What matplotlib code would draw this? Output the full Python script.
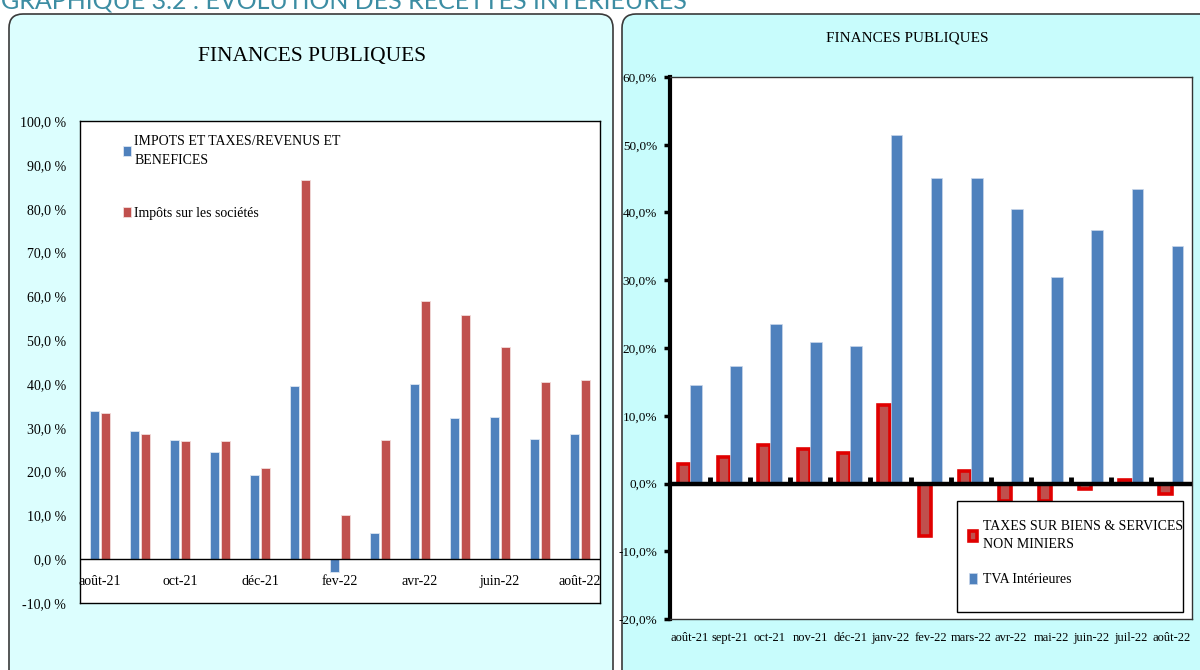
import numpy as np
import matplotlib
matplotlib.use("Agg")
import matplotlib.pyplot as plt
from matplotlib.patches import FancyBboxPatch, Rectangle

plt.rcParams['font.family'] = ['Liberation Serif', 'DejaVu Serif']

# data
months = ['août-21', 'sept-21', 'oct-21', 'nov-21', 'déc-21', 'janv-22', 'fev-22',
          'mars-22', 'avr-22', 'mai-22', 'juin-22', 'juil-22', 'août-22']

# left chart
impots_revenus = [33.8, 29.2, 27.3, 24.4, 19.2, 39.6, -2.9, 6.0, 39.9, 32.3, 32.5, 27.5, 28.7]
impots_societes = [33.3, 28.5, 27.1, 27.1, 20.9, 86.6, 10.2, 27.3, 58.9, 55.7, 48.4, 40.4, 40.9]

# right chart
taxes_biens = [2.9, 3.9, 5.7, 5.1, 4.5, 11.6, -7.7, 1.9, -2.6, -2.6, -0.8, 0.5, -1.6]
tva = [14.6, 17.3, 23.5, 20.9, 20.3, 51.5, 45.1, 45.1, 40.5, 30.5, 37.4, 43.5, 35.0]

BLUE = '#4F81BD'
RED = '#C0504D'

fig = plt.figure(figsize=(12, 6.7), dpi=100)
fig.patch.set_facecolor('white')

# rounded background panels (inches)
left_panel = FancyBboxPatch((0.09, -0.5), 6.04, 7.06, boxstyle="round,pad=0,rounding_size=0.14",
                            transform=fig.dpi_scale_trans, facecolor='#DCFEFE',
                            edgecolor='#3a3a3a', linewidth=1.2, zorder=-5)
right_panel = FancyBboxPatch((6.22, -0.5), 6.5, 7.06, boxstyle="round,pad=0,rounding_size=0.14",
                             transform=fig.dpi_scale_trans, facecolor='#C8FCFC',
                             edgecolor='#3a3a3a', linewidth=1.2, zorder=-5)
fig.add_artist(left_panel)
fig.add_artist(right_panel)

# header, cut by the top of the page as in the source
fig.text(0.001, 0.988, 'GRAPHIQUE 3.2 : EVOLUTION DES RECETTES INTERIEURES',
         family=['Lato', 'DejaVu Sans'], fontsize=18, color='#3C8DA3', va='baseline', ha='left')

x = np.arange(len(months))

# ---- left chart ----
ax1 = fig.add_axes([0.0667, 0.1, 0.4333, 0.719])
ax1.bar(x - 0.135, impots_revenus, width=0.23, color=BLUE, edgecolor='#dce6f2', linewidth=0.6,
        label='IMPOTS ET TAXES/REVENUS ET\nBENEFICES')
ax1.bar(x + 0.14, impots_societes, width=0.23, color=RED, edgecolor='#f2dcdb', linewidth=0.6,
        label='Impôts sur les sociétés')
ax1.axhline(0, color='black', linewidth=1.0)
ax1.set_xlim(-0.5, len(months) - 0.5)
ax1.set_ylim(-10, 100)
ax1.set_yticks(np.arange(-10, 101, 10))
ax1.yaxis.set_major_formatter(plt.FuncFormatter(lambda v, p: ('%.1f %%' % v).replace('.', ',')))
ax1.tick_params(axis='y', length=0, pad=10, labelsize=10)
ax1.set_xticks([])
# every other month is labelled, just under the zero line
for i in x[::2]:
    ax1.text(i, -5.2, months[i], ha='center', va='center', fontsize=10)
for s in ax1.spines.values():
    s.set_linewidth(1.0)
    s.set_color('black')
leg1 = ax1.legend(loc='upper left', bbox_to_anchor=(0.072, 0.983), frameon=False, fontsize=10,
                  handlelength=0.55, handleheight=0.7, handletextpad=0.25, labelspacing=2.9,
                  borderaxespad=0)
for t in leg1.get_texts():
    t.set_linespacing(1.55)
fig.text(0.26, 0.915, 'FINANCES PUBLIQUES', ha='center', va='center', fontsize=15.5)

# ---- right chart ----
ax2 = fig.add_axes([0.558, 0.0761, 0.435, 0.809])
ax2.bar(x - 0.15, taxes_biens, width=0.3, color=RED, edgecolor='#E00000', linewidth=2.6,
        label='TAXES SUR BIENS & SERVICES\nNON MINIERS', zorder=2)
ax2.bar(x + 0.15, tva, width=0.29, color=BLUE, edgecolor='#c9d7ea', linewidth=0.5,
        label='TVA Intérieures', zorder=2)
ax2.axhline(0, color='black', linewidth=3.2, zorder=3)
ax2.vlines(x[1:] - 0.5, 0, 0.9, color='black', linewidth=3.5, zorder=3)
ax2.set_xlim(-0.5, len(months) - 0.5)
ax2.set_ylim(-20, 60)
ax2.set_yticks(np.arange(-20, 61, 10))
ax2.yaxis.set_major_formatter(plt.FuncFormatter(lambda v, p: ('%.1f%%' % v).replace('.', ',')))
ax2.tick_params(axis='y', length=4, width=2.5, pad=5, labelsize=9.5)
ax2.set_xticks(x)
ax2.set_xticklabels(months)
ax2.tick_params(axis='x', length=0, pad=9, labelsize=9)
ax2.spines['left'].set_linewidth(3)
ax2.spines['left'].set_color('black')
for side in ['top', 'right', 'bottom']:
    ax2.spines[side].set_linewidth(1.0)
    ax2.spines[side].set_color('#333333')

# legend box is taller than its content in the source, so the frame is drawn apart
ax2.add_patch(Rectangle((0.55, 0.013), 0.433, 0.205, transform=ax2.transAxes,
                        facecolor='white', edgecolor='black', linewidth=1.0, zorder=4))
leg2 = ax2.legend(loc='upper left', bbox_to_anchor=(0.55, 0.205), frameon=False, fontsize=10,
                  handlelength=0.55, handleheight=0.8, handletextpad=0.45, labelspacing=1.6,
                  borderpad=0.9, borderaxespad=0)
for t in leg2.get_texts():
    t.set_linespacing(1.45)
leg2.set_zorder(5)
fig.text(0.756, 0.943, 'FINANCES PUBLIQUES', ha='center', va='center', fontsize=11)

fig.savefig('out.png', dpi=100)
